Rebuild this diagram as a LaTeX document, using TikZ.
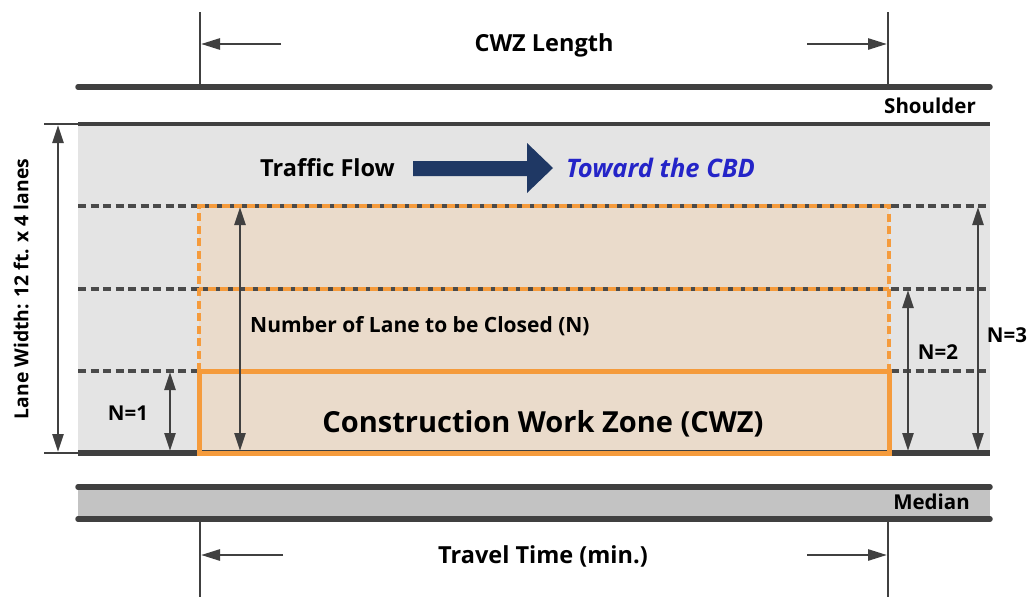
\documentclass[tikz,border=0pt]{standalone}
\usepackage{fontspec}
\setmainfont{Open Sans}
\usetikzlibrary{arrows.meta}
\definecolor{roadline}{HTML}{404040}
\definecolor{lanefill}{HTML}{E4E4E4}
\definecolor{medianfill}{HTML}{C3C3C3}
\definecolor{zoneorange}{HTML}{F59B3C}
\definecolor{zonefill}{HTML}{EADBCB}
\definecolor{flownavy}{HTML}{1F3864}
\definecolor{cbdblue}{HTML}{2424C8}
\tikzset{
  roadedge/.style={draw=roadline, line width=5.5pt, line cap=round},
  thinedge/.style={draw=roadline, line width=3.2pt},
  lanemark/.style={draw=roadline!95, line width=3.2pt, dash pattern=on 8pt off 4.5pt},
  dimline/.style={draw=roadline, line width=2.6pt},
  dimarrow/.style={draw=roadline, line width=2.6pt, {Triangle[length=18pt,width=11pt]}-{Triangle[length=18pt,width=11pt]}},
  onearrow/.style={draw=roadline, line width=2.6pt, -{Triangle[length=19pt,width=11pt]}},
  lbl/.style={font=\bfseries\fontsize{20.5}{22}\selectfont, text=black, inner sep=0pt},
  biglbl/.style={font=\bfseries\fontsize{23.5}{26}\selectfont, text=black, inner sep=0pt}
}
\begin{document}
\begin{tikzpicture}[x=1pt,y=-1pt]
\useasboundingbox (0,0) rectangle (1030,597);
% lanes
\fill[lanefill] (78,124) rectangle (990,453);
% closed area
\fill[zonefill] (199,206) rectangle (889,453);
% lane markings
\foreach \yy in {206,289,371}
  \draw[lanemark] (78,\yy) -- (990,\yy);
\draw[draw=zoneorange, line width=3.4pt, dash pattern=on 8pt off 4.5pt]
  (199,371) -- (199,206) -- (889,206) -- (889,371);
\draw[draw=zoneorange, line width=3.4pt, dash pattern=on 8pt off 4.5pt, dash phase=4pt]
  (199,289) -- (889,289);
% road edges
\draw[roadedge] (78,87) -- (990,87);
\draw[thinedge] (78,124) -- (990,124);
\draw[roadedge, line cap=butt] (78,453) -- (990,453);
% median
\fill[medianfill] (78,487) rectangle (990,519);
\draw[roadedge] (78,487) -- (990,487);
\draw[roadedge] (78,519) -- (990,519);
% work zone
\draw[draw=zoneorange, line width=5pt] (199,371) rectangle (889,453);
\node[font=\bfseries\fontsize{29}{32}\selectfont, inner sep=0pt] (cwz) at (543,424) {Construction Work Zone (CWZ)};

% CWZ length dimension
\coordinate (tl0) at (200,12); \coordinate (tl1) at (200,87);
\coordinate (tr0) at (888,12); \coordinate (tr1) at (888,87);
\draw[dimline] (tl0) -- (tl1);
\draw[dimline] (tr0) -- (tr1);
\coordinate (ta) at (281,44); \coordinate (tb) at (201,44);
\coordinate (tc) at (807,44); \coordinate (td) at (887,44);
\draw[onearrow] (ta) -- (tb);
\draw[onearrow] (tc) -- (td);
\node[biglbl] (cwzlen) at (544,45) {CWZ Length};

% travel time dimension
\coordinate (bl0) at (200,519); \coordinate (bl1) at (200,597);
\coordinate (br0) at (888,519); \coordinate (br1) at (888,597);
\draw[dimline] (bl0) -- (bl1);
\draw[dimline] (br0) -- (br1);
\coordinate (ba) at (283,555); \coordinate (bb) at (201,555);
\coordinate (bc) at (807,555); \coordinate (bd) at (887,555);
\draw[onearrow] (ba) -- (bb);
\draw[onearrow] (bc) -- (bd);
\node[biglbl] (ttime) at (543,556) {Travel Time (min.)};

% shoulder / median labels
\node[lbl, anchor=east] (shoulder) at (976,106) {Shoulder};
\node[lbl, anchor=east] (median) at (970,502) {Median};

% traffic flow
\node[biglbl, anchor=east] (flow) at (395,168) {Traffic Flow};
\fill[flownavy] (413,161) -- (527,161) -- (527,143) -- (553,168) -- (527,193) -- (527,176) -- (413,176) -- cycle;
\node[font=\bfseries\itshape\fontsize{25.5}{28}\selectfont, text=cbdblue, inner sep=0pt, anchor=west] (cbd) at (566,168) {Toward the CBD};

% lane width dimension
\coordinate (lw0) at (44,124); \coordinate (lw1) at (78,124);
\coordinate (lw2) at (44,453); \coordinate (lw3) at (78,453);
\draw[dimline] (lw0) -- (lw1);
\draw[dimline] (lw2) -- (lw3);
\coordinate (lwa) at (58,125); \coordinate (lwb) at (58,452);
\draw[dimarrow] (lwa) -- (lwb);
\node[font=\bfseries\fontsize{19.3}{21}\selectfont, inner sep=0pt, rotate=90] (lanew) at (21,289) {Lane Width: 12 ft. x 4 lanes};

% N=1
\coordinate (n1a) at (170,372); \coordinate (n1b) at (170,451);
\draw[dimarrow] (n1a) -- (n1b);
\node[lbl] (n1) at (128,413) {N=1};
% N (general)
\coordinate (na) at (240,207); \coordinate (nb) at (240,451);
\draw[dimarrow] (na) -- (nb);
\node[font=\bfseries\fontsize{21}{23}\selectfont, inner sep=0pt, anchor=west] (nlbl) at (250,326) {Number of Lane to be Closed (N)};
% N=2
\coordinate (n2a) at (908,290); \coordinate (n2b) at (908,451);
\draw[dimarrow] (n2a) -- (n2b);
\node[lbl] (n2) at (938,352) {N=2};
% N=3
\coordinate (n3a) at (978,207); \coordinate (n3b) at (978,451);
\draw[dimarrow] (n3a) -- (n3b);
\node[lbl] (n3) at (1007,335) {N=3};
\end{tikzpicture}
\end{document}
